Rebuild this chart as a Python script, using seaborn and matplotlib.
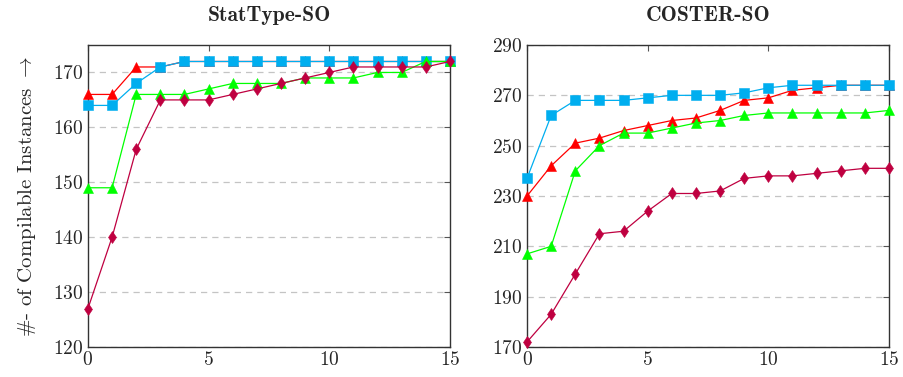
import numpy as np
import pandas as pd
import matplotlib
matplotlib.use("Agg")
import matplotlib.pyplot as plt
import seaborn as sns

# iterations on the x axis
steps = list(range(16))

# StatType-SO
stattype_red = [166, 166, 171, 171, 172, 172, 172, 172, 172, 172, 172, 172, 172, 172, 172, 172]
stattype_cyan = [164, 164, 168, 171, 172, 172, 172, 172, 172, 172, 172, 172, 172, 172, 172, 172]
stattype_green = [149, 149, 166, 166, 166, 167, 168, 168, 168, 169, 169, 169, 170, 170, 172, 172]
stattype_purple = [127, 140, 156, 165, 165, 165, 166, 167, 168, 169, 170, 171, 171, 171, 171, 172]

# COSTER-SO
coster_red = [230, 242, 251, 253, 256, 258, 260, 261, 264, 268, 269, 272, 273, 274, 274, 274]
coster_cyan = [237, 262, 268, 268, 268, 269, 270, 270, 270, 271, 273, 274, 274, 274, 274, 274]
coster_green = [207, 210, 240, 250, 255, 255, 257, 259, 260, 262, 263, 263, 263, 263, 263, 264]
coster_purple = [172, 183, 199, 215, 216, 224, 231, 231, 232, 237, 238, 238, 239, 240, 241, 241]

sns.set_style("white")
plt.rcParams['font.family'] = ['cmr10', 'DejaVu Serif']
plt.rcParams['mathtext.fontset'] = 'cm'
plt.rcParams['axes.formatter.use_mathtext'] = True

# line style per series: colour, marker, marker size
styles = {
    'red': ('#ff0000', '^', 6.5),
    'cyan': ('#00aeef', 's', 7),
    'green': ('#00ff00', '^', 6.5),
    'purple': ('#bf0040', 'd', 6.5),
}

panels = [
    ("StatType-SO", {'red': stattype_red, 'cyan': stattype_cyan,
                     'green': stattype_green, 'purple': stattype_purple},
     (120, 175), np.arange(120, 171, 10)),
    ("COSTER-SO", {'red': coster_red, 'cyan': coster_cyan,
                   'green': coster_green, 'purple': coster_purple},
     (170, 290), np.arange(170, 291, 20)),
]

fig = plt.figure(figsize=(9.04, 3.77), dpi=100)
axes = [fig.add_axes([0.0973, 0.0796, 0.4004, 0.801]),
        fig.add_axes([0.583, 0.0796, 0.4004, 0.801])]

for ax, (title, series, ylim, yticks) in zip(axes, panels):
    for name in ['red', 'cyan', 'green', 'purple']:
        color, marker, ms = styles[name]
        df = pd.DataFrame({'step': steps, 'value': series[name]})
        sns.lineplot(data=df, x='step', y='value', ax=ax, color=color,
                     marker=marker, markersize=ms, markeredgewidth=0.4,
                     markeredgecolor=color, linewidth=0.9, clip_on=False,
                     zorder=3)
    ax.set_xlim(0, 15)
    ax.set_ylim(*ylim)
    ax.set_xticks([0, 5, 10, 15])
    ax.set_yticks(yticks)
    ax.yaxis.grid(True, linestyle=(0, (5, 4)), color='#c4c4c4', linewidth=0.9)
    ax.set_axisbelow(True)
    ax.tick_params(direction='in', top=True, right=True, length=4,
                   width=0.8, color='#555555', labelsize=14, pad=3)
    for sp in ax.spines.values():
        sp.set_color('#333333')
        sp.set_linewidth(1.0)
    ax.set_xlabel('')
    ax.set_ylabel('')
    ax.set_title(title, fontsize=15.5, family='cmb10', pad=17)

axes[0].set_ylabel(r'#- of Compilable Instances $\rightarrow$', fontsize=15, labelpad=11)

fig.savefig("out.png", dpi=100)
